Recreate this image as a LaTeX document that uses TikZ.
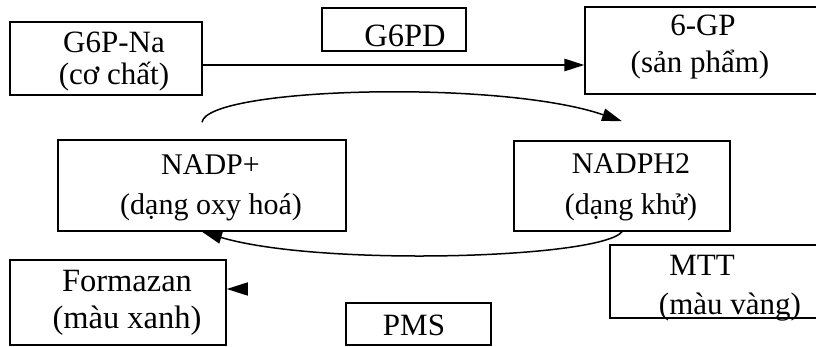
\documentclass[tikz,border=0pt]{standalone}
\usepackage{fontspec}
\setmainfont{Liberation Serif}
\usetikzlibrary{arrows.meta}

\begin{document}
\begin{tikzpicture}[x=1pt, y=-1pt, line width=1.5pt,
    box/.style ={rectangle, draw, inner sep=0pt},
    txt/.style ={anchor=base, inner sep=0pt, font=\fontsize{31pt}{37pt}\selectfont},
    bigtxt/.style ={txt, font=\fontsize{32.5pt}{37pt}\selectfont},
    smalltxt/.style ={txt, font=\fontsize{30pt}{37pt}\selectfont},
    arr/.style ={-{Triangle[length=20pt, width=12.5pt]}}]
   \useasboundingbox (0,0) rectangle (816,347);
   \clip (0,0) rectangle (816,347);

   % boxes
   \node[box, minimum width=192pt, minimum height=73pt] (g6pna) at (106,58.5) {};
   \node[box, minimum width=144pt, minimum height=43pt] (g6pd) at (394,29.5) {};
   \node[box, minimum width=245pt, minimum height=87pt] (gp6) at (707.5,50.5) {};
   \node[box, minimum width=288pt, minimum height=91pt] (nadp) at (202,185.5) {};
   \node[box, minimum width=216pt, minimum height=90pt] (nadph) at (622,186) {};
   \node[box, minimum width=216pt, minimum height=85pt] (fz) at (118,302.5) {};
   \node[box, minimum width=145pt, minimum height=42pt] (pms) at (418.5,324) {};
   \node[box, minimum width=220pt, minimum height=73pt] (mtt) at (720,281.5) {};

   % texts
   \node[txt] (g6pnaA) at (114,53) {G6P-Na};
   \node[txt] (g6pnaB) at (114,85) {(cơ chất)};
   \node[bigtxt] (g6pdA) at (405,47) {G6PD};
   \node[txt] (gp6A) at (703,36) {6-GP};
   \node[txt] (gp6B) at (700,73) {(sản phẩm)};
   \node[smalltxt] (nadpA) at (210.5,175) {NADP+};
   \node[smalltxt] (nadpB) at (211,215) {(dạng oxy hoá)};
   \node[smalltxt] (nadphA) at (631,174) {NADPH2};
   \node[smalltxt] (nadphB) at (631,215) {(dạng khử)};
   \node[bigtxt] (fzA) at (127,291) {Formazan};
   \node[bigtxt] (fzB) at (127,328) {(màu xanh)};
   \node[txt] (mttA) at (702,276) {MTT};
   \node[txt] (mttB) at (730,314) {(màu vàng)};
   \node[txt] (pmsA) at (414,335) {PMS};

   % arrows
   \draw[arr] ([yshift=-6.5pt]g6pna.east) -- ([yshift=-6.5pt]g6pna.east -| gp6.west);
   \draw[arr] ([yshift=17pt]nadp.north) .. controls +(5,-35) and +(-122,-42) .. ([yshift=19pt]nadph.north);
   \draw[arr] (nadph.south) .. controls +(-22,27) and +(117,35) .. (nadp.south);
   \coordinate (fzTail) at (248,289);
   \draw[-{Triangle[length=21pt, width=13pt]}] (fzTail) -- (fzTail -| fz.east);
 \end{tikzpicture}
\end{document}
